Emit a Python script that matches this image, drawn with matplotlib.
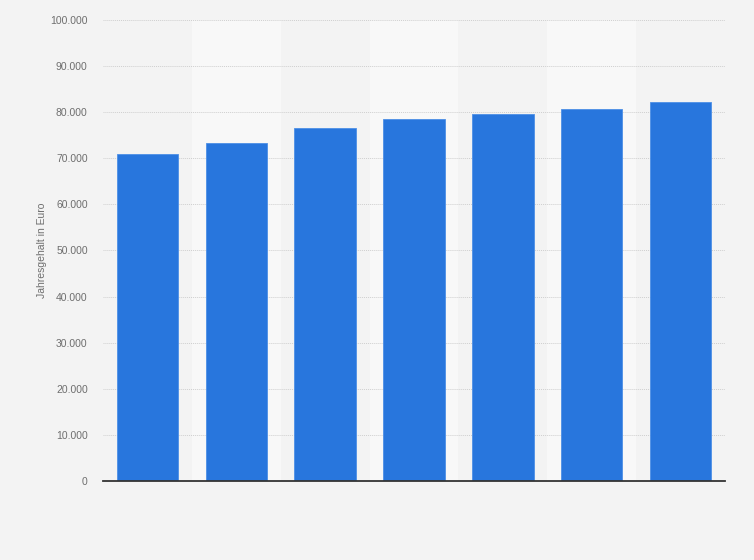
import matplotlib
matplotlib.use("Agg")
import matplotlib.pyplot as plt
from matplotlib.ticker import FuncFormatter

plt.rcParams['font.family'] = ['Liberation Sans', 'DejaVu Sans']

# Jahresgehalt je Balken (in Euro), ohne Kategoriebeschriftung
kategorien = ["1", "2", "3", "4", "5", "6", "7"]
gehalt = [70900, 73300, 76600, 78500, 79600, 80700, 82200]
y_ticks = [0, 10000, 20000, 30000, 40000, 50000, 60000, 70000, 80000, 90000, 100000]

fig = plt.figure(figsize=(7.54, 5.6), dpi=100)
fig.patch.set_facecolor("#f3f3f3")
ax = fig.add_axes([103 / 754, 1 - 481 / 560, 622 / 754, 461 / 560])
ax.set_facecolor("#f3f3f3")

x = list(range(len(kategorien)))

# abwechselnde Hintergrundstreifen
for i in x:
    if i % 2 == 1:
        ax.axvspan(i - 0.5, i + 0.5, color="#f8f8f8", zorder=0, lw=0)

ax.set_yticks(y_ticks)
ax.yaxis.grid(True, color="#cfcfcf", linestyle=(0, (1, 1)), linewidth=0.7, zorder=1)
ax.set_axisbelow(True)

ax.bar(x, gehalt, width=0.69, color="#2876dd", edgecolor="#4d8fe6",
       linewidth=0.6, zorder=3)

ax.set_xlim(-0.5, len(kategorien) - 0.5)
ax.set_ylim(0, 100000)
ax.set_xticks([])

fmt = FuncFormatter(lambda v, p: f"{int(v):,}".replace(",", "."))
ax.yaxis.set_major_formatter(fmt)
ax.tick_params(axis="y", length=0, pad=11, labelsize=7.5, labelcolor="#6e6e6e")

for s in ["top", "right", "left"]:
    ax.spines[s].set_visible(False)
ax.spines["bottom"].set_color("#333333")
ax.spines["bottom"].set_linewidth(1.3)
ax.spines["bottom"].set_zorder(4)

ax.set_ylabel("Jahresgehalt in Euro", fontsize=7.5, color="#6e6e6e")
ax.yaxis.set_label_coords(-0.09, 0.5)

fig.savefig("out.png", dpi=100, facecolor=fig.get_facecolor())
